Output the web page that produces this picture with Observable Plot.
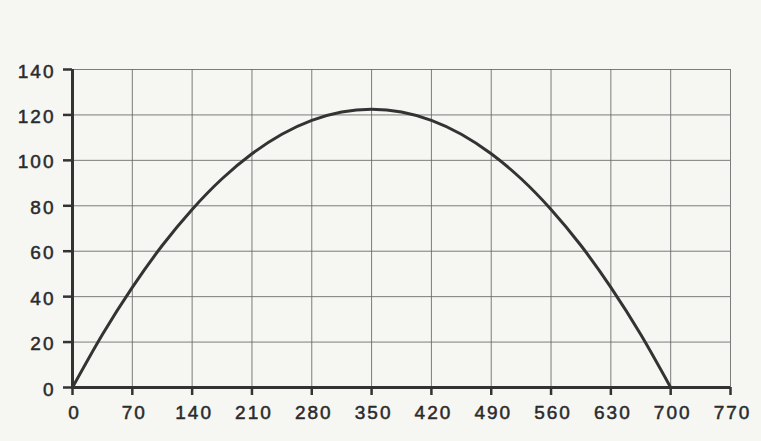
<!DOCTYPE html>
<html>
<head>
<meta charset="utf-8">
<script src="https://cdn.jsdelivr.net/npm/d3@7"></script>
<script src="https://cdn.jsdelivr.net/npm/@observablehq/plot@0.6"></script>
<style>
  html, body { margin: 0; padding: 0; background: #f6f6f3; }
  #chart svg { display: block; }
</style>
</head>
<body>
<div id="chart"></div>
<script>
const xValues = [0, 35, 70, 105, 140, 175, 210, 245, 280, 315, 350, 385, 420, 455, 490, 525, 560, 595, 630, 665, 700];
const yValues = [0, 23.3, 44.1, 62.5, 78.4, 91.9, 102.9, 111.5, 117.6, 121.3, 122.5, 121.3, 117.6, 111.5, 102.9, 91.9, 78.4, 62.5, 44.1, 23.3, 0];
const xTicks = [0, 70, 140, 210, 280, 350, 420, 490, 560, 630, 700, 770];
const yTicks = [0, 20, 40, 60, 80, 100, 120, 140];

const data = xValues.map((x, i) => ({x, y: yValues[i]}));

const chart = Plot.plot({
  width: 761,
  height: 441,
  marginLeft: 72,
  marginRight: 31,
  marginTop: 69,
  marginBottom: 54,
  style: {background: "#f6f6f3", fontFamily: "Liberation Sans, Arial, sans-serif", color: "#333", letterSpacing: "2px"},
  x: {domain: [0, 770]},
  y: {domain: [0, 140]},
  marks: [
    Plot.gridX(xTicks, {stroke: "#666", strokeOpacity: 0.85, strokeWidth: 1}),
    Plot.gridY(yTicks, {stroke: "#666", strokeOpacity: 0.85, strokeWidth: 1}),
    Plot.axisX(xTicks, {tickSize: 8, strokeWidth: 2.5, stroke: "#333", tickFormat: () => "", label: null}),
    Plot.axisY(yTicks, {tickSize: 9, strokeWidth: 2.5, stroke: "#333", tickFormat: () => "", label: null}),
    Plot.text(xTicks, {x: d => d, frameAnchor: "bottom", dy: 31, dx: 2, fontSize: 19, fill: "#2a2a2a", stroke: "#2a2a2a", strokeWidth: 0.5, text: d => String(d)}),
    Plot.text(yTicks, {y: d => d, frameAnchor: "left", dx: -17, dy: 2, textAnchor: "end", fontSize: 19, fill: "#2a2a2a", stroke: "#2a2a2a", strokeWidth: 0.5, text: d => String(d)}),
    Plot.ruleX([0], {stroke: "#333", strokeWidth: 3}),
    Plot.ruleY([0], {stroke: "#333", strokeWidth: 3}),
    Plot.line(data, {x: "x", y: "y", curve: "natural", stroke: "#333", strokeWidth: 3})
  ]
});
document.getElementById("chart").appendChild(chart);
</script>
</body>
</html>
